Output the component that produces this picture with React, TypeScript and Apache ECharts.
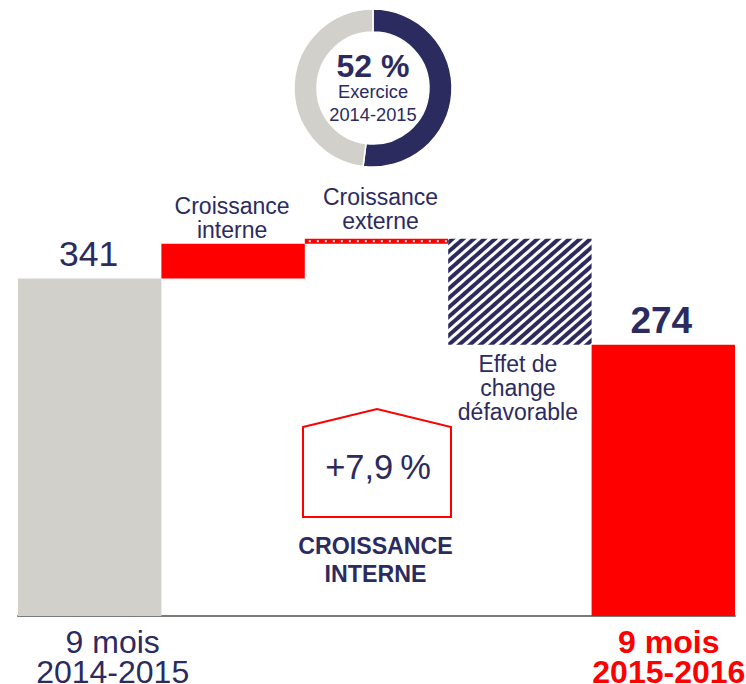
import React, { useEffect, useRef } from "react";
import * as echarts from "echarts";

const NAVY = "#2b2b5f";
const GREY = "#d2d0ca";
const RED = "#ff0000";
const FONT = "'Liberation Sans', Arial, sans-serif";

const categories = ["9 mois\n2014-2015", "Croissance\ninterne", "Croissance\nexterne", "Effet de\nchange\ndéfavorable", "9 mois\n2015-2016"];
const baseValues = [0, 341, 376, 274, 0];
const deltaValues = [341, 35, 5, 107, 274];
const donutValues = [52, 48];
const badgeText = "+7,9\u2009%";
const badgeCaption = "CROISSANCE\nINTERNE";
const donutYear = "2014-2015";

export default function App() {
  const ref = useRef<HTMLDivElement>(null);
  useEffect(() => {
    const chart = echarts.init(ref.current!, null, { renderer: "svg" });
    const labelBase = { show: true, color: NAVY, fontFamily: FONT, fontSize: 23, lineHeight: 24 };
    chart.setOption({
      animation: false,
      textStyle: { fontFamily: FONT },
      grid: { left: 18, right: 11, top: 220, height: 396, outerBoundsMode: "none", containLabel: false },
      xAxis: {
        type: "category",
        data: categories,
        axisTick: { show: false },
        axisLine: { lineStyle: { color: "#7a7a76", width: 2 } },
        axisLabel: {
          interval: 0,
          margin: 11,
          formatter: (v: string, i: number) => {
            if (i !== 0 && i !== 4) return "";
            const k = i === 0 ? "a" : "b";
            return v.split("\n").map((s) => `{${k}|${s}}`).join("\n");
          },
          rich: {
            a: { color: NAVY, fontFamily: FONT, fontSize: 32, lineHeight: 30, padding: [0, 0, 0, 46] },
            b: { color: RED, fontFamily: FONT, fontSize: 32, fontWeight: "bold", lineHeight: 30, padding: [0, 0, 0, 11] },
          },
        },
      },
      yAxis: { type: "value", min: 0, max: 400, show: false, splitLine: { show: false } },
      series: [
        {
          type: "bar",
          stack: "w",
          barWidth: "100%",
          silent: true,
          data: baseValues,
          itemStyle: { color: "transparent" },
        },
        {
          type: "bar",
          stack: "w",
          barWidth: "100%",
          data: [
            {
              value: deltaValues[0],
              itemStyle: { color: GREY },
              label: { ...labelBase, position: "top", formatter: "{c}", fontSize: 35.5, offset: [-1, -7] },
            },
            {
              value: deltaValues[1],
              itemStyle: { color: RED },
              label: { ...labelBase, position: "top", formatter: () => categories[1], offset: [-1, 3] },
            },
            {
              value: deltaValues[2],
              itemStyle: { color: RED },
              label: { ...labelBase, position: "top", formatter: () => categories[2], offset: [4, -1] },
            },
            {
              value: deltaValues[3],
              itemStyle: {
                color: "#ffffff",
                decal: {
                  symbol: "rect",
                  color: NAVY,
                  backgroundColor: "#ffffff",
                  dashArrayX: [[1, 0]],
                  dashArrayY: [3.2, 2.3],
                  symbolSize: 1,
                  rotation: -0.72,
                },
              },
              label: { ...labelBase, position: "bottom", formatter: () => categories[3], offset: [-2, 2] },
            },
            {
              value: deltaValues[4],
              itemStyle: { color: RED },
              label: { ...labelBase, position: "top", formatter: "{c}", fontSize: 37, fontWeight: "bold", offset: [-2, -7] },
            },
          ],
        },
        {
          type: "custom",
          silent: true,
          data: [[2, baseValues[2] + deltaValues[2] / 2]],
          encode: { x: 0, y: 1 },
          z: 5,
          renderItem: (_p: any, api: any) => {
            const c = api.coord([api.value(0), api.value(1)]);
            const w = api.size([1, 0])[0];
            return {
              type: "line",
              shape: { x1: c[0] - w / 2 + 4, y1: c[1], x2: c[0] + w / 2, y2: c[1] },
              style: { stroke: "#ffffff", lineWidth: 2, lineDash: [2, 6] },
            };
          },
        },
        {
          type: "pie",
          center: [373, 88],
          radius: [56, 79],
          startAngle: 90,
          clockwise: true,
          silent: true,
          label: { show: false },
          labelLine: { show: false },
          itemStyle: { borderColor: "#ffffff", borderWidth: 1.5 },
          data: [
            { value: donutValues[0], itemStyle: { color: NAVY } },
            { value: donutValues[1], itemStyle: { color: GREY } },
          ],
        },
      ],
      graphic: [
        { type: "text", x: 373, y: 66, style: { text: `${donutValues[0]} %`, fill: NAVY, font: `bold 32px ${FONT}`, align: "center", verticalAlign: "middle" } },
        { type: "text", x: 373, y: 91, style: { text: "Exercice", fill: NAVY, font: `18.3px ${FONT}`, align: "center", verticalAlign: "middle" } },
        { type: "text", x: 373, y: 114, style: { text: donutYear, fill: NAVY, font: `18.3px ${FONT}`, align: "center", verticalAlign: "middle" } },
        {
          type: "polygon",
          shape: { points: [[303, 427], [377, 409], [451, 427], [451, 517], [303, 517]] },
          style: { fill: "none", stroke: RED, lineWidth: 2 },
        },
        { type: "text", x: 378, y: 467, style: { text: badgeText, fill: NAVY, font: `34.5px ${FONT}`, align: "center", verticalAlign: "middle" } },
        { type: "text", x: 375.5, y: 546, style: { text: badgeCaption.split("\n")[0], fill: NAVY, font: `bold 23.2px ${FONT}`, align: "center", verticalAlign: "middle" } },
        { type: "text", x: 375.5, y: 574, style: { text: badgeCaption.split("\n")[1], fill: NAVY, font: `bold 23.2px ${FONT}`, align: "center", verticalAlign: "middle" } },
      ],
    });
    return () => chart.dispose();
  }, []);
  return <div ref={ref} style={{ position: "fixed", left: 0, top: 0, width: 746, height: 684, background: "#fff" }} />;
}
